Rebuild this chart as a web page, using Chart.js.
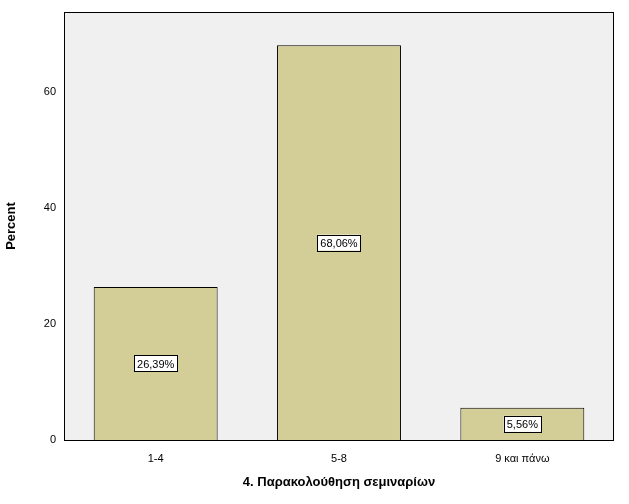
<!DOCTYPE html>
<html><head><meta charset="utf-8">
<script src="https://cdn.jsdelivr.net/npm/chart.js@4/dist/chart.umd.min.js"></script>
<style>html,body{margin:0;padding:0;background:#fff}#w{width:629px;height:504px}</style>
</head><body><div id="w"><canvas id="c"></canvas></div>
<script>
const categories = ["1-4", "5-8", "9 και πάνω"];
const percents = [26.39, 68.06, 5.56];
const yTicks = [0, 20, 40, 60];
const labels = percents.map(v => v.toFixed(2).replace('.', ',') + '%');

const bgPlugin = {
  id: 'bg',
  beforeDraw(ch) {
    const a = ch.chartArea, c = ch.ctx;
    c.save(); c.fillStyle = '#f0f0f0'; c.fillRect(a.left, a.top, a.right - a.left, a.bottom - a.top);
    c.strokeStyle = '#000'; c.lineWidth = 1; c.strokeRect(a.left + 0.5, a.top + 0.5, a.right - a.left - 1, a.bottom - a.top); c.restore();
  },
  afterDatasetsDraw(ch) {
    const c = ch.ctx, meta = ch.getDatasetMeta(0), y = ch.scales.y;
    c.save(); c.font = '11px Arial, "Liberation Sans"'; c.textAlign = 'center'; c.textBaseline = 'middle';
    meta.data.forEach((b, i) => {
      const cy = y.getPixelForValue(percents[i] / 2);
      const t = labels[i], w = c.measureText(t).width + 6;
      c.fillStyle = '#fff'; c.fillRect(b.x - w / 2, cy - 8, w, 16);
      c.strokeStyle = '#000'; c.lineWidth = 1; c.strokeRect(Math.round(b.x - w / 2) + 0.5, Math.round(cy - 8) + 0.5, Math.round(w), 16);
      c.fillStyle = '#000'; c.fillText(t, b.x, cy + 1);
    });
    c.restore();
  }
};

new Chart(document.getElementById('c'), {
  type: 'bar',
  data: { labels: categories, datasets: [{ data: percents, backgroundColor: '#d3ce97', borderColor: '#000', borderWidth: 1, categoryPercentage: 0.676, barPercentage: 1 }] },
  options: {
    responsive: true, maintainAspectRatio: false, animation: false,
    layout: { padding: { top: 12, right: 15, left: 0, bottom: 0 } },
    plugins: { legend: { display: false }, tooltip: { enabled: false } },
    scales: {
      x: {
        grid: { display: false, drawTicks: true }, border: { display: false },
        ticks: { color: '#000', font: { size: 11, family: 'Arial, "Liberation Sans"' }, padding: 4 },
        title: { display: true, text: '4. Παρακολούθηση σεμιναρίων', color: '#000', font: { size: 13, weight: 'bold', family: 'Arial, "Liberation Sans"' }, padding: { top: 12, bottom: 14 } },
        afterFit(s) { s.height = 64; }
      },
      y: {
        min: 0, max: 73.8,
        afterBuildTicks(s) { s.ticks = yTicks.map(v => ({ value: v })); },
        grid: { display: false, drawTicks: true, tickLength: 5, tickColor: '#000' }, border: { display: false },
        ticks: { color: '#000', font: { size: 11, family: 'Arial, "Liberation Sans"' }, padding: 3 },
        title: { display: true, text: 'Percent', color: '#000', font: { size: 13, weight: 'bold', family: 'Arial, "Liberation Sans"' } },
        afterFit(s) { s.width = 64; }
      }
    }
  },
  plugins: [bgPlugin]
});
</script></body></html>
